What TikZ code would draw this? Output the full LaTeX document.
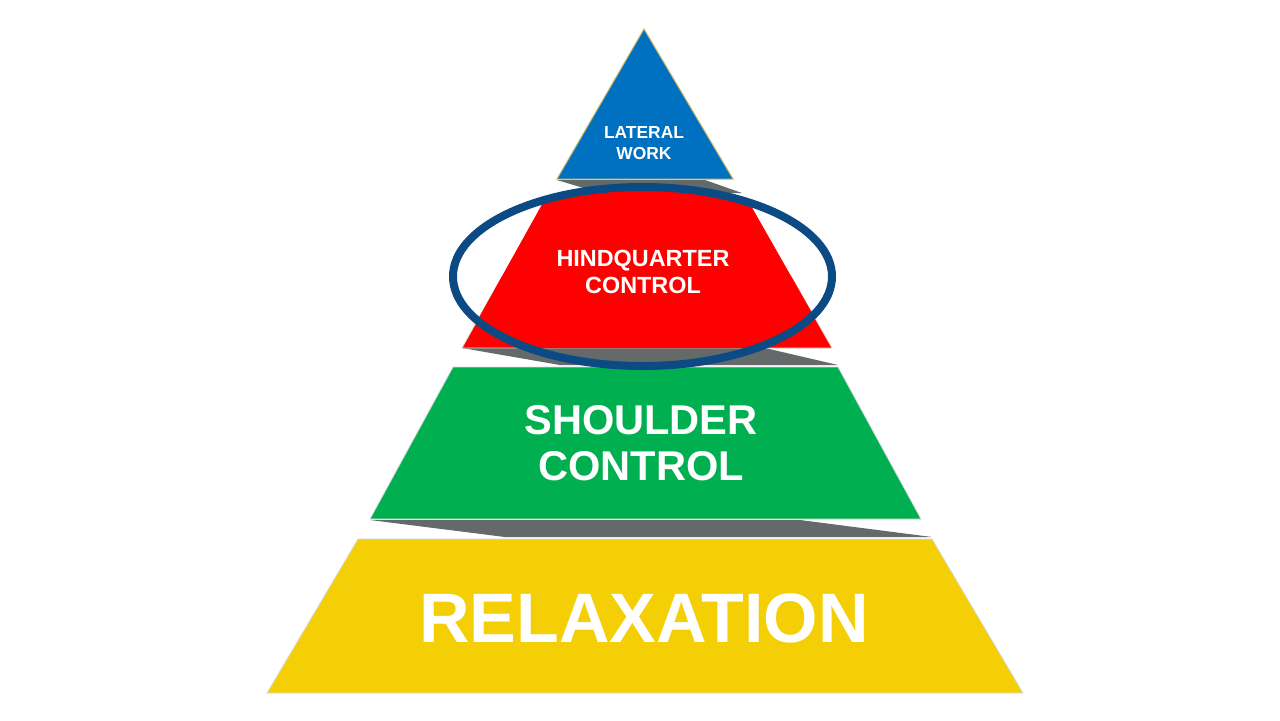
\documentclass[tikz,border=0pt]{standalone}
\usepackage{fontspec}
\setmainfont{Liberation Sans}
\usetikzlibrary{positioning}
\definecolor{tipcolor}{RGB}{0,112,192}
\definecolor{hindcolor}{RGB}{255,0,0}
\definecolor{shouldercolor}{RGB}{0,176,80}
\definecolor{basecolor}{RGB}{245,207,5}
\definecolor{slabcolor}{RGB}{99,106,105}
\definecolor{ringcolor}{RGB}{12,74,132}
\definecolor{rimcolor}{RGB}{205,180,105}
\tikzset{
    tier/.style={draw=white!85!black, line width=0.4pt},
    tip tier/.style={fill=tipcolor, draw=rimcolor, line width=0.5pt},
    hind tier/.style={tier, fill=hindcolor},
    shoulder tier/.style={tier, fill=shouldercolor},
    base tier/.style={tier, fill=basecolor},
    slab/.style={fill=slabcolor},
    ring/.style={draw=ringcolor, line width=4pt},
    tier label/.style={text=white, font=\bfseries, align=center, inner sep=0pt}
}

\begin{document}
\begin{tikzpicture}[x=0.5pt, y=-0.5pt]
    \useasboundingbox[fill=white] (0,0) rectangle (1280,720);

    % Shadow slabs between the tiers
    \fill[slab] (557,180) -- (705,180) -- (742,193) -- (600,193) -- cycle;
    \fill[slab] (462,348) -- (765,348) -- (838,365) -- (560,365) -- cycle;
    \fill[slab] (370,520) -- (800,520) -- (932,537) -- (505,537) -- cycle;

    % Tiers of the pyramid, top to bottom
    \filldraw[tip tier] (644,29) -- (733,179) -- (557,179) -- cycle;
    % second tier: lower half as is, upper half cut by the ring
    \begin{scope}
        \clip (0,276.5) rectangle (1280,720);
        \filldraw[hind tier] (550,190) -- (742,190) -- (832,348) -- (462,348) -- cycle;
    \end{scope}
    \begin{scope}
        \clip (642.5,276.5) ellipse [x radius=189.5, y radius=89.5];
        \fill[hindcolor] (550,190) -- (742,190) -- (832,348) -- (462,348) -- cycle;
    \end{scope}
    \filldraw[shoulder tier] (453,367) -- (838,367) -- (921,519) -- (370,519) -- cycle;
    \filldraw[base tier] (358,539) -- (932,539) -- (1023,693) -- (267,693) -- cycle;

    % Ring round the second tier
    \draw[ring] (642.5,276.5) ellipse [x radius=189.5, y radius=89.5];

    % Tier labels
    \node[tier label, font=\bfseries\fontsize{8.7}{10.5}\selectfont] (lateral) at (644,143.5) {LATERAL\\WORK};
    \node[tier label, font=\bfseries\fontsize{11.7}{13.5}\selectfont] (hindquarter) at (643,272) {HINDQUARTER\\CONTROL};
    \node[tier label, font=\bfseries\fontsize{20.8}{23}\selectfont] (shoulder) at (641,443) {SHOULDER\\CONTROL};
    \node[tier label, font=\bfseries\fontsize{35}{40}\selectfont] (relaxation) at (644,618) {RELAXATION};
\end{tikzpicture}
\end{document}
